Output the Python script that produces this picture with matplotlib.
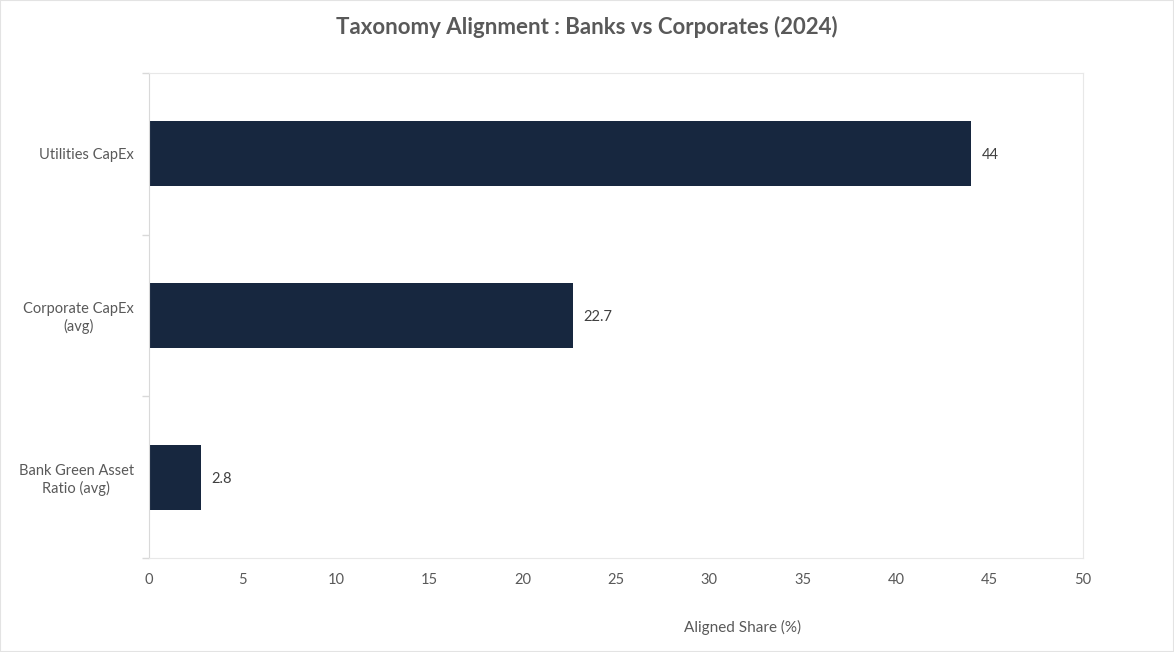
import matplotlib.pyplot as plt
from matplotlib.patches import Rectangle

# data (bottom to top)
categories = ['Bank Green Asset\nRatio (avg)', 'Corporate CapEx\n(avg)', 'Utilities CapEx']
values = [2.8, 22.7, 44]
value_labels = ['2.8', '22.7', '44']
x_ticks = [0, 5, 10, 15, 20, 25, 30, 35, 40, 45, 50]

plt.rcParams['font.family'] = ['Lato', 'DejaVu Sans']

bar_color = '#17273F'
text_grey = '#595959'
line_grey = '#D9D9D9'

fig = plt.figure(figsize=(11.74, 6.52), dpi=100)
ax = fig.add_axes([149 / 1174, 1 - 558 / 652, 934 / 1174, 485 / 652])

# chart border
fig.patches.append(Rectangle((0, 0), 1, 1, transform=fig.transFigure,
                             fill=False, edgecolor='#E3E3E3', lw=1.5))

ypos = list(range(len(categories)))
ax.barh(ypos, values, height=0.4, color=bar_color, zorder=2)

for y, v, lab in zip(ypos, values, value_labels):
    ax.annotate(lab, xy=(v, y), xytext=(7.5, -1), textcoords='offset points',
                ha='left', va='center', fontsize=10.5, color='#404040')

ax.set_xlim(0, 50)
ax.set_ylim(-0.5, len(categories) - 0.5)
ax.set_xticks(x_ticks)
ax.set_xticklabels([str(t) for t in x_ticks], fontsize=10.5, color=text_grey)
ax.set_yticks(ypos)
ax.set_yticklabels(categories, fontsize=10.5, color=text_grey,
                   multialignment='center')
ax.set_yticks([-0.5, 0.5, 1.5, 2.5], minor=True)

ax.tick_params(axis='x', length=0, pad=11)
ax.tick_params(axis='y', which='major', length=0, pad=11)
ax.tick_params(axis='y', which='minor', length=5, width=1, color=line_grey)

for side in ['top', 'right', 'bottom']:
    ax.spines[side].set_color('#E8E8E8')
ax.spines['left'].set_color(line_grey)

ax.set_xlabel('Aligned Share (%)', fontsize=11, color=text_grey)
ax.xaxis.set_label_coords(0.636, -0.128)

fig.suptitle('Taxonomy Alignment : Banks vs Corporates (2024)', x=0.5, y=0.975,
             fontsize=16, fontweight='bold', color=text_grey)

fig.savefig('out.png', dpi=100)
